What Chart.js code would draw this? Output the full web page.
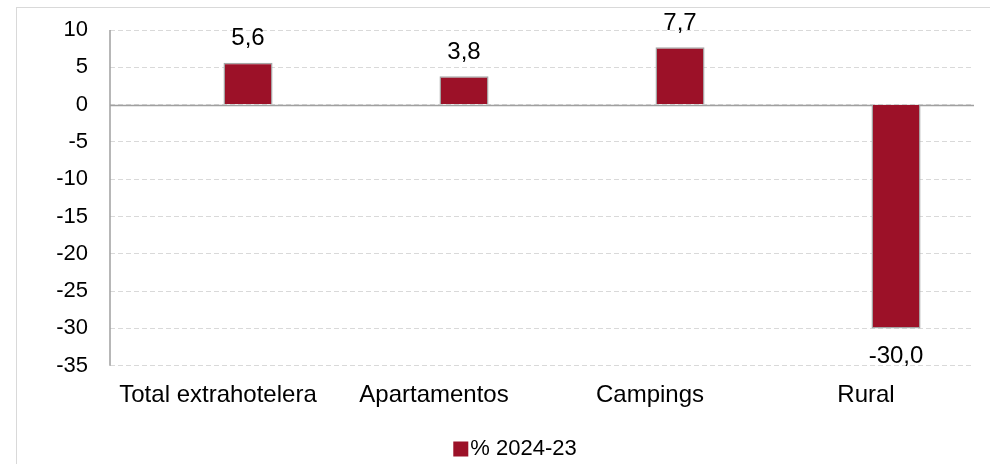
<!DOCTYPE html>
<html>
<head>
<meta charset="utf-8">
<script src="https://cdn.jsdelivr.net/npm/chart.js@4.4.1/dist/chart.umd.min.js"></script>
<style>
  html, body { margin: 0; padding: 0; background: #fff; }
  #wrap { width: 990px; height: 464px; position: relative; }
</style>
</head>
<body>
<div id="wrap"><canvas id="c" width="990" height="464"></canvas></div>
<script>
const categories = ['Total extrahotelera', 'Apartamentos', 'Campings', 'Rural'];
const seriesName = '% 2024-23';
const seriesValues = [5.6, 3.8, 7.7, -30.0];
const placeholderValues = [null, null, null, null];
const yTicks = [10, 5, 0, -5, -10, -15, -20, -25, -30, -35];

const FONT = "'Liberation Sans', Arial, sans-serif";
const BAR = '#9c1128';

const frame = {
  id: 'frame',
  beforeDraw(chart) {
    const ctx = chart.ctx;
    ctx.save();
    ctx.strokeStyle = '#d9d9d9';
    ctx.lineWidth = 1;
    ctx.strokeRect(16.5, 7.5, 1100, 600);
    ctx.restore();
  },
  beforeDatasetsDraw(chart) {
    const ctx = chart.ctx;
    const y = chart.scales.y;
    const a = chart.chartArea;
    ctx.save();
    ctx.strokeStyle = '#a0a0a0';
    ctx.lineWidth = 1.5;
    ctx.beginPath();
    ctx.moveTo(a.left, a.top);
    ctx.lineTo(a.left, a.bottom);
    const z = Math.round(y.getPixelForValue(0)) + 0.5;
    ctx.moveTo(a.left, z);
    ctx.lineTo(a.right, z);
    ctx.stroke();
    ctx.restore();
  },
  afterDatasetsDraw(chart) {
    const ctx = chart.ctx;
    const meta = chart.getDatasetMeta(1);
    ctx.save();
    ctx.font = '24px ' + FONT;
    ctx.fillStyle = '#000';
    ctx.textAlign = 'center';
    ctx.textBaseline = 'middle';
    meta.data.forEach((bar, i) => {
      const v = seriesValues[i];
      const txt = v.toFixed(1).replace('.', ',');
      const yy = v >= 0 ? bar.y - 24 : bar.y + 28;
      ctx.fillText(txt, bar.x, yy);
    });
    // legend
    ctx.font = '22px ' + FONT;
    const tw = ctx.measureText(seriesName).width;
    const total = 15 + 2 + tw;
    const cx = 515, cy = 449;
    const x0 = cx - total / 2;
    ctx.fillStyle = BAR;
    ctx.fillRect(x0, cy - 7.5, 15, 15);
    ctx.fillStyle = '#000';
    ctx.textAlign = 'left';
    ctx.fillText(seriesName, x0 + 17, cy);
    ctx.restore();
  }
};

new Chart(document.getElementById('c'), {
  type: 'bar',
  data: {
    labels: categories,
    datasets: [
      { label: '', data: placeholderValues, backgroundColor: BAR },
      { label: seriesName, data: seriesValues, backgroundColor: BAR,
        borderColor: '#a6a6a6', borderWidth: 1.5 }
    ]
  },
  options: {
    responsive: false,
    animation: false,
    devicePixelRatio: 1,
    layout: { padding: { left: 0, right: 16, top: 30, bottom: 46.5 } },
    datasets: { bar: { categoryPercentage: 0.556, barPercentage: 0.817, grouped: true } },
    scales: {
      x: {
        grid: { display: false },
        border: { display: false },
        afterFit(scale) { scale.paddingLeft = 0; scale.paddingRight = 0; },
        ticks: { font: { family: FONT, size: 24 }, color: '#000', padding: 7.5, maxRotation: 0 }
      },
      y: {
        min: -35, max: 10,
        afterBuildTicks(scale) { scale.ticks = yTicks.map(v => ({ value: v })); },
        afterFit(scale) { scale.width = 110; scale.paddingTop = 0; scale.paddingBottom = 0; },
        grid: { color: '#d9d9d9', lineWidth: 1, drawTicks: false },
        border: { display: false, dash: [5, 3] },
        ticks: { font: { family: FONT, size: 22 }, color: '#000', padding: 22 }
      }
    },
    plugins: {
      legend: { display: false },
      tooltip: { enabled: false }
    }
  },
  plugins: [frame]
});
</script>
</body>
</html>
